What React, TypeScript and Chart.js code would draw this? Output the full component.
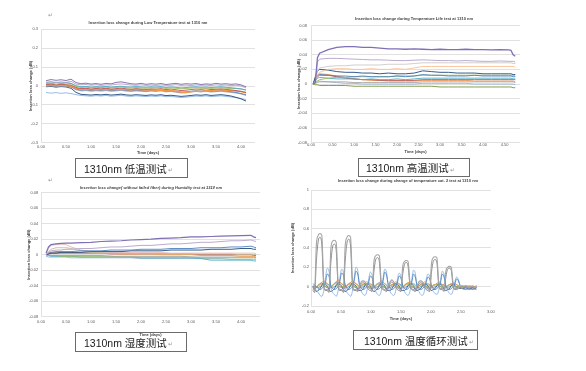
import React, { useEffect, useRef } from "react";
import { Chart, registerables } from "chart.js";
Chart.register(...registerables);

const FONT = "'Liberation Sans', Arial, sans-serif";
const CAP_FONT = "'Liberation Sans', 'Noto Sans CJK SC', sans-serif";

// ---------- text ----------
const title1 = "Insertion loss change during Low Temperature test at 1310 nm";
const title2 = "Insertion loss change during Temperature Life test at 1310 nm";
const title3 = "Insertion loss change( without failed fiber) during Humidity test at 1310 nm";
const title4 = "Insertion loss change during change of temperature cat. 2 test at 1310 nm";
const yAxisTitle = "Insertion loss change (dB)";
const xAxisTitle = "Time (days)";
const caption1 = "1310nm 低温测试";
const caption2 = "1310nm 高温测试";
const caption3 = "1310nm 湿度测试";
const caption4 = "1310nm 温度循环测试";

// ---------- tick labels ----------
const yTicks1 = [-0.3, -0.2, -0.1, 0, 0.1, 0.2, 0.3];
const yLabels1 = ["-0.3", "-0.2", "-0.1", "0", "0.1", "0.2", "0.3"];
const yTicks23 = [-0.08, -0.06, -0.04, -0.02, 0, 0.02, 0.04, 0.06, 0.08];
const yLabels23 = ["-0.08", "-0.06", "-0.04", "-0.02", "0", "0.02", "0.04", "0.06", "0.08"];
const yTicks4 = [-0.2, 0, 0.2, 0.4, 0.6, 0.8, 1];
const yLabels4 = ["-0.2", "0", "0.2", "0.4", "0.6", "0.8", "1"];
const xTicks13 = [0, 0.5, 1, 1.5, 2, 2.5, 3, 3.5, 4];
const xLabels13 = ["0.00", "0.50", "1.00", "1.50", "2.00", "2.50", "3.00", "3.50", "4.00"];
const xTicks2 = [0, 0.5, 1, 1.5, 2, 2.5, 3, 3.5, 4, 4.5];
const xLabels2 = ["0.00", "0.50", "1.00", "1.50", "2.00", "2.50", "3.00", "3.50", "4.00", "4.50"];
const xTicks4 = [0, 0.5, 1, 1.5, 2, 2.5, 3];
const xLabels4 = ["0.00", "0.50", "1.00", "1.50", "2.00", "2.50", "3.00"];

// ---------- chart 1: low temperature ----------
const days1 = [0.1,0.2,0.3,0.4,0.5,0.6,0.7,0.8,0.9,1.0,1.1,1.2,1.3,1.4,1.5,1.6,1.7,1.8,1.9,2.0,2.1,2.2,2.3,2.4,2.5,2.6,2.7,2.8,2.9,3.0,3.1,3.2,3.3,3.4,3.5,3.6,3.7,3.8,3.9,4.0,4.1];
const low_purple = [0.028,0.034,0.030,0.033,0.029,0.036,0.018,0.012,0.015,0.010,0.013,0.009,0.014,0.011,0.019,0.022,0.017,0.012,0.010,0.014,0.009,0.012,0.010,0.013,0.008,0.011,0.014,0.009,0.012,0.010,0.013,0.008,0.011,0.009,0.014,0.010,0.012,0.009,0.011,0.006,-0.004];
const low_lilac = [0.020,0.024,0.018,0.022,0.019,0.025,0.010,0.006,0.008,0.004,0.007,0.003,0.006,0.005,0.009,0.011,0.008,0.005,0.004,0.006,0.003,0.005,0.002,0.006,0.003,0.004,0.007,0.003,0.005,0.002,0.006,0.003,0.005,0.002,0.006,0.004,0.005,0.002,0.004,0.000,-0.010];
const low_teal = [0.018,0.015,0.020,0.016,0.019,0.014,0.002,-0.004,-0.002,-0.006,-0.003,-0.005,-0.002,-0.006,-0.003,-0.001,-0.004,-0.006,-0.003,-0.005,-0.007,-0.004,-0.006,-0.003,-0.008,-0.005,-0.007,-0.010,-0.008,-0.006,-0.004,-0.007,-0.005,-0.008,-0.006,-0.004,-0.007,-0.009,-0.012,-0.015,-0.022];
const low_green = [0.012,0.016,0.010,0.014,0.011,0.013,-0.002,-0.008,-0.006,-0.010,-0.007,-0.009,-0.006,-0.010,-0.008,-0.005,-0.009,-0.011,-0.008,-0.010,-0.012,-0.009,-0.011,-0.008,-0.013,-0.010,-0.012,-0.015,-0.013,-0.011,-0.009,-0.012,-0.010,-0.013,-0.011,-0.009,-0.012,-0.014,-0.013,-0.016,-0.020];
const low_red = [0.008,0.010,0.006,0.009,0.007,0.005,-0.008,-0.014,-0.012,-0.016,-0.013,-0.015,-0.012,-0.016,-0.014,-0.011,-0.015,-0.017,-0.014,-0.016,-0.018,-0.015,-0.017,-0.014,-0.019,-0.016,-0.020,-0.024,-0.022,-0.019,-0.016,-0.018,-0.015,-0.019,-0.017,-0.015,-0.018,-0.021,-0.024,-0.028,-0.034];
const low_orange = [0.004,0.006,0.002,0.005,0.003,0.000,-0.012,-0.018,-0.016,-0.020,-0.017,-0.019,-0.016,-0.020,-0.018,-0.015,-0.019,-0.021,-0.018,-0.020,-0.022,-0.020,-0.023,-0.021,-0.025,-0.024,-0.028,-0.032,-0.034,-0.030,-0.027,-0.029,-0.025,-0.024,-0.022,-0.020,-0.023,-0.025,-0.027,-0.030,-0.036];
const low_blue = [0.002,0.004,0.000,0.003,0.001,-0.004,-0.016,-0.022,-0.020,-0.024,-0.021,-0.023,-0.020,-0.024,-0.022,-0.019,-0.023,-0.025,-0.022,-0.024,-0.026,-0.023,-0.025,-0.022,-0.027,-0.025,-0.029,-0.033,-0.031,-0.028,-0.025,-0.027,-0.024,-0.028,-0.026,-0.024,-0.027,-0.030,-0.034,-0.040,-0.046];
const low_gray = [-0.002,0.001,-0.003,0.000,-0.002,-0.006,-0.020,-0.026,-0.024,-0.028,-0.025,-0.027,-0.024,-0.028,-0.026,-0.023,-0.027,-0.029,-0.026,-0.028,-0.030,-0.027,-0.029,-0.026,-0.031,-0.029,-0.033,-0.037,-0.035,-0.032,-0.029,-0.031,-0.028,-0.032,-0.030,-0.028,-0.031,-0.034,-0.037,-0.042,-0.050];
const low_navy = [-0.004,-0.002,-0.006,-0.003,-0.005,-0.012,-0.034,-0.044,-0.046,-0.048,-0.045,-0.047,-0.044,-0.048,-0.046,-0.043,-0.047,-0.049,-0.046,-0.048,-0.050,-0.047,-0.049,-0.046,-0.051,-0.049,-0.052,-0.055,-0.053,-0.050,-0.047,-0.049,-0.046,-0.050,-0.048,-0.046,-0.049,-0.053,-0.060,-0.068,-0.080];
const low_sky = [-0.034,-0.038,-0.035,-0.039,-0.036,-0.040,-0.046,-0.050,-0.052,-0.054,-0.051,-0.053,-0.050,-0.054,-0.052,-0.049,-0.053,-0.055,-0.052,-0.054,-0.056,-0.053,-0.055,-0.052,-0.057,-0.055,-0.058,-0.061,-0.059,-0.056,-0.053,-0.055,-0.052,-0.056,-0.054,-0.052,-0.055,-0.058,-0.062,-0.066,-0.072];

// ---------- chart 2: temperature life ----------
const days2 = [0.05,0.1,0.15,0.2,0.4,0.6,0.8,1.0,1.2,1.4,1.6,1.8,2.0,2.2,2.4,2.6,2.8,3.0,3.2,3.4,3.6,3.8,4.0,4.2,4.4,4.6,4.65,4.7,4.75];
const hot_purple = [0.000,0.002,0.036,0.042,0.047,0.050,0.051,0.051,0.050,0.050,0.049,0.048,0.048,0.0475,0.048,0.0475,0.047,0.0475,0.047,0.047,0.0475,0.047,0.047,0.0465,0.047,0.0465,0.046,0.040,0.038];
const hot_lilac = [0.000,0.004,0.030,0.034,0.035,0.035,0.0345,0.034,0.0335,0.033,0.033,0.0325,0.032,0.032,0.0325,0.033,0.0325,0.032,0.032,0.0315,0.032,0.0315,0.031,0.031,0.0315,0.031,0.031,0.031,0.030];
const hot_silver = [0.000,0.003,0.018,0.022,0.024,0.025,0.025,0.026,0.026,0.026,0.026,0.027,0.027,0.027,0.028,0.029,0.029,0.029,0.029,0.029,0.029,0.029,0.029,0.029,0.029,0.029,0.029,0.028,0.028];
const hot_peach = [0.000,0.004,0.012,0.016,0.020,0.021,0.021,0.020,0.020,0.021,0.020,0.020,0.021,0.020,0.022,0.024,0.024,0.024,0.024,0.024,0.024,0.024,0.024,0.024,0.024,0.024,0.024,0.024,0.023];
const hot_navy = [0.000,0.010,0.018,0.020,0.019,0.017,0.016,0.016,0.015,0.015,0.014,0.015,0.014,0.014,0.015,0.018,0.017,0.016,0.016,0.015,0.015,0.015,0.014,0.014,0.014,0.014,0.014,0.013,0.013];
const hot_blue = [0.000,0.006,0.012,0.013,0.012,0.011,0.011,0.010,0.011,0.010,0.010,0.010,0.011,0.010,0.011,0.013,0.012,0.012,0.011,0.011,0.011,0.012,0.011,0.011,0.011,0.011,0.011,0.010,0.010];
const hot_green = [0.000,0.002,0.004,0.006,0.008,0.009,0.009,0.010,0.010,0.010,0.010,0.010,0.011,0.011,0.011,0.012,0.012,0.012,0.012,0.012,0.012,0.012,0.012,0.012,0.012,0.012,0.012,0.012,0.011];
const hot_teal = [0.000,0.004,0.008,0.009,0.008,0.007,0.007,0.007,0.006,0.007,0.006,0.006,0.007,0.006,0.007,0.008,0.008,0.008,0.008,0.008,0.008,0.008,0.008,0.008,0.008,0.008,0.008,0.007,0.007];
const hot_red = [0.000,0.006,0.010,0.012,0.012,0.010,0.008,0.007,0.006,0.006,0.005,0.005,0.005,0.005,0.005,0.006,0.006,0.006,0.006,0.006,0.006,0.006,0.006,0.006,0.006,0.006,0.006,0.006,0.006];
const hot_orange = [0.000,0.008,0.012,0.014,0.013,0.011,0.009,0.007,0.006,0.005,0.005,0.004,0.004,0.004,0.004,0.005,0.005,0.005,0.005,0.005,0.005,0.004,0.004,0.004,0.004,0.004,0.004,0.004,0.003];
const hot_gray = [0.000,0.001,0.002,0.003,0.003,0.003,0.003,0.002,0.002,0.002,0.002,0.002,0.002,0.002,0.002,0.003,0.003,0.003,0.003,0.003,0.003,0.003,0.003,0.003,0.003,0.003,0.003,0.003,0.002];
const hot_sky = [0.000,0.002,0.004,0.004,0.003,0.002,0.001,0.001,0.000,0.000,0.000,0.000,0.000,0.000,0.000,0.001,0.001,0.001,0.001,0.001,0.001,0.000,0.000,0.000,0.000,0.000,0.000,0.000,-0.001];
const hot_olive = [0.000,-0.001,-0.001,-0.002,-0.002,-0.002,-0.002,-0.003,-0.003,-0.003,-0.003,-0.003,-0.003,-0.003,-0.003,-0.003,-0.003,-0.004,-0.004,-0.004,-0.004,-0.004,-0.004,-0.004,-0.004,-0.004,-0.004,-0.005,-0.005];

// ---------- chart 3: humidity ----------
const days3 = [0.1,0.15,0.2,0.3,0.4,0.5,0.6,0.8,1.0,1.2,1.4,1.6,1.8,2.0,2.2,2.4,2.6,2.8,3.0,3.2,3.4,3.6,3.8,4.0,4.2,4.25,4.3];
const hum_purple = [0.002,0.010,0.013,0.014,0.0145,0.015,0.015,0.0155,0.016,0.017,0.0175,0.018,0.019,0.0195,0.020,0.021,0.0215,0.022,0.023,0.023,0.0235,0.024,0.0242,0.0245,0.025,0.023,0.022];
const hum_lilac = [0.000,0.003,0.005,0.006,0.006,0.007,0.007,0.008,0.008,0.009,0.010,0.010,0.011,0.012,0.012,0.013,0.014,0.014,0.015,0.016,0.016,0.017,0.018,0.018,0.019,0.018,0.017];
const hum_blue = [0.000,0.002,0.003,0.004,0.004,0.004,0.004,0.005,0.005,0.005,0.006,0.006,0.006,0.007,0.007,0.007,0.008,0.008,0.008,0.009,0.009,0.009,0.010,0.010,0.011,0.010,0.009];
const hum_navy = [0.000,0.001,0.002,0.002,0.003,0.003,0.003,0.003,0.004,0.004,0.004,0.004,0.005,0.005,0.005,0.005,0.006,0.006,0.006,0.006,0.007,0.007,0.007,0.008,0.008,0.007,0.007];
const hum_pink = [0.000,0.008,0.012,0.013,0.0135,0.013,0.010,0.006,0.004,0.004,0.003,0.003,0.003,0.003,0.003,0.003,0.002,0.002,0.002,0.002,0.002,0.002,0.002,0.002,0.002,0.002,0.001];
const hum_tan = [0.000,0.004,0.007,0.009,0.009,0.009,0.008,0.005,0.003,0.002,0.002,0.002,0.002,0.001,0.001,0.001,0.001,0.001,0.001,0.001,0.001,0.001,0.001,0.000,0.000,0.000,0.000];
const hum_orange = [0.000,0.002,0.003,0.003,0.003,0.003,0.003,0.002,0.002,0.002,0.002,0.001,0.001,0.001,0.001,0.000,0.000,0.000,0.000,-0.001,-0.001,-0.001,-0.001,-0.002,-0.002,-0.002,-0.003];
const hum_red = [0.000,0.001,0.002,0.002,0.002,0.002,0.002,0.002,0.002,0.002,0.001,0.001,0.001,0.001,0.001,0.001,0.001,0.001,0.001,0.000,0.000,0.000,0.000,0.000,0.000,-0.001,-0.001];
const hum_gray = [0.000,0.000,-0.001,-0.001,-0.001,-0.001,-0.001,-0.001,-0.001,-0.001,-0.002,-0.002,-0.002,-0.002,-0.002,-0.002,-0.002,-0.002,-0.003,-0.003,-0.003,-0.003,-0.003,-0.003,-0.003,-0.003,-0.004];
const hum_green = [0.000,-0.001,-0.001,-0.001,-0.002,-0.002,-0.002,-0.002,-0.002,-0.002,-0.002,-0.003,-0.003,-0.003,-0.003,-0.003,-0.003,-0.003,-0.003,-0.004,-0.004,-0.004,-0.004,-0.004,-0.004,-0.004,-0.004];
const hum_teal = [0.000,-0.001,-0.002,-0.002,-0.002,-0.002,-0.002,-0.003,-0.003,-0.003,-0.003,-0.003,-0.003,-0.004,-0.004,-0.004,-0.004,-0.004,-0.004,-0.005,-0.007,-0.007,-0.007,-0.007,-0.007,-0.008,-0.008];
const hum_sky = [-0.002,-0.003,-0.003,-0.003,-0.003,-0.003,-0.004,-0.004,-0.004,-0.004,-0.004,-0.004,-0.004,-0.005,-0.005,-0.005,-0.005,-0.005,-0.005,-0.005,-0.005,-0.005,-0.006,-0.006,-0.006,-0.006,-0.006];

// ---------- chart 4: temperature cycling ----------
const days4 = [
  0.03,0.06,0.09,0.12,0.15,0.18,0.21,0.24,
  0.27,0.30,0.33,0.36,0.39,0.42,0.45,0.48,
  0.51,0.54,0.57,0.60,0.63,0.66,0.69,0.72,
  0.75,0.78,0.81,0.84,0.87,0.90,0.93,0.96,
  0.99,1.02,1.05,1.08,1.11,1.14,1.17,1.20,
  1.23,1.26,1.29,1.32,1.35,1.38,1.41,1.44,
  1.47,1.50,1.53,1.56,1.59,1.62,1.65,1.68,
  1.71,1.74,1.77,1.80,1.83,1.86,1.89,1.92,
  1.95,1.98,2.01,2.04,2.07,2.10,2.13,2.16,
  2.19,2.22,2.25,2.28,2.31,2.34,2.37,2.40,
  2.43,2.46,2.49,2.52,2.55,2.58,2.61,2.64,2.67,2.70,2.73,2.76];
const cyc_gray = [
  -0.02,-0.04,0.44,0.53,0.55,0.53,0.08,-0.03,
  -0.03,-0.05,0.38,0.47,0.48,0.46,0.07,-0.03,
  -0.03,-0.05,0.42,0.51,0.53,0.51,0.08,-0.03,
  -0.03,-0.04,0.01,0.05,0.06,0.05,0.02,-0.01,
  -0.02,-0.04,0.26,0.32,0.33,0.32,0.06,-0.02,
  -0.03,-0.04,0.01,0.05,0.07,0.05,0.02,-0.01,
  -0.02,-0.04,0.21,0.26,0.27,0.26,0.05,-0.02,
  -0.03,-0.04,0.01,0.05,0.06,0.05,0.02,-0.01,
  -0.02,-0.04,0.24,0.30,0.31,0.30,0.05,-0.02,
  -0.02,-0.04,0.16,0.20,0.21,0.20,0.04,-0.02,
  -0.02,-0.01,0.00,-0.01,0.00,0.01,0.00,-0.01,0.00,0.00,-0.01,0.00];
const cyc_dim = [
  -0.04,-0.06,0.27,0.47,0.51,0.44,0.03,-0.04,
  -0.04,-0.06,0.24,0.41,0.44,0.38,0.03,-0.04,
  -0.04,-0.06,0.26,0.45,0.49,0.42,0.03,-0.04,
  -0.04,-0.05,-0.01,0.03,0.04,0.03,0.00,-0.03,
  -0.04,-0.05,0.16,0.28,0.30,0.26,0.02,-0.03,
  -0.04,-0.05,-0.01,0.03,0.05,0.03,0.00,-0.03,
  -0.04,-0.05,0.13,0.23,0.25,0.21,0.02,-0.03,
  -0.04,-0.05,-0.01,0.03,0.04,0.03,0.00,-0.03,
  -0.04,-0.05,0.15,0.26,0.28,0.25,0.02,-0.03,
  -0.03,-0.05,0.10,0.18,0.19,0.17,0.01,-0.03,
  -0.03,-0.02,-0.01,-0.02,-0.01,0.00,-0.01,-0.02,-0.01,-0.01,-0.02,-0.01];
const cyc_blue = [
  0.00,0.01,0.00,-0.02,-0.03,-0.02,0.00,0.04,
  0.13,0.11,0.01,-0.02,-0.03,-0.02,0.00,0.05,
  0.14,0.12,0.02,-0.02,-0.03,-0.02,0.00,0.06,
  0.16,0.13,0.02,-0.02,-0.03,-0.02,0.00,0.04,
  0.11,0.09,0.01,-0.02,-0.03,-0.02,0.00,0.05,
  0.15,0.12,0.02,-0.02,-0.03,-0.02,0.00,0.04,
  0.11,0.09,0.01,-0.02,-0.03,-0.02,0.00,0.04,
  0.13,0.10,0.01,-0.02,-0.03,-0.02,0.00,0.04,
  0.10,0.08,0.01,-0.02,-0.03,-0.02,0.00,0.04,
  0.13,0.10,0.01,-0.02,-0.03,-0.02,0.00,0.03,
  0.08,0.06,0.01,-0.01,-0.02,-0.03,-0.02,-0.03,-0.02,-0.03,-0.02,-0.03];
const cyc_sky = [
  0.00,0.00,-0.04,-0.06,-0.09,-0.10,-0.05,0.08,
  0.19,0.16,0.00,-0.06,-0.08,-0.10,-0.05,0.08,
  0.18,0.15,0.00,-0.06,-0.08,-0.10,-0.05,0.09,
  0.20,0.17,0.00,-0.05,-0.08,-0.09,-0.05,0.07,
  0.15,0.12,0.00,-0.05,-0.08,-0.09,-0.05,0.08,
  0.18,0.15,0.00,-0.05,-0.08,-0.09,-0.05,0.07,
  0.14,0.11,0.00,-0.05,-0.08,-0.09,-0.05,0.07,
  0.17,0.14,0.00,-0.05,-0.08,-0.09,-0.05,0.07,
  0.13,0.11,0.00,-0.05,-0.07,-0.08,-0.04,0.06,
  0.16,0.13,0.00,-0.04,-0.07,-0.08,-0.04,0.05,
  0.10,0.07,0.00,-0.02,-0.03,-0.02,-0.03,-0.02,-0.03,-0.02,-0.03,-0.02];
const cyc_orange = [
  0.01,0.00,0.00,0.01,0.02,0.04,0.06,0.05,
  0.03,0.01,0.00,0.01,0.03,0.05,0.07,0.05,
  0.03,0.01,0.00,0.01,0.02,0.04,0.06,0.05,
  0.03,0.01,0.00,0.01,0.02,0.04,0.05,0.04,
  0.02,0.01,0.00,0.01,0.02,0.04,0.06,0.05,
  0.03,0.01,0.00,0.01,0.02,0.03,0.05,0.04,
  0.02,0.01,0.00,0.01,0.02,0.04,0.05,0.04,
  0.02,0.01,0.00,0.01,0.02,0.03,0.05,0.04,
  0.02,0.01,0.00,0.01,0.02,0.03,0.05,0.04,
  0.02,0.01,0.00,0.01,0.02,0.03,0.04,0.03,
  0.02,0.01,0.00,0.01,0.01,0.00,0.01,0.00,0.01,0.00,0.00,0.01];
const cyc_green = [
  0.00,-0.01,0.00,0.02,0.03,0.02,0.01,0.00,
  0.00,-0.01,0.00,0.02,0.03,0.03,0.01,0.00,
  0.01,-0.01,0.00,0.02,0.03,0.02,0.01,0.00,
  0.00,-0.01,0.00,0.01,0.02,0.02,0.01,0.00,
  0.00,-0.01,0.00,0.02,0.03,0.02,0.01,0.00,
  0.00,-0.01,0.00,0.01,0.02,0.02,0.01,0.00,
  0.00,-0.01,0.00,0.02,0.03,0.02,0.01,0.00,
  0.00,-0.01,0.00,0.01,0.02,0.02,0.01,0.00,
  0.00,-0.01,0.00,0.02,0.02,0.02,0.01,0.00,
  0.00,-0.01,0.00,0.01,0.02,0.02,0.01,0.00,
  0.00,0.00,-0.01,0.00,0.00,-0.01,0.00,0.00,-0.01,0.00,0.00,-0.01];
const cyc_purple = [
  -0.01,-0.02,-0.01,0.01,0.03,0.04,0.02,0.00,
  -0.01,-0.02,-0.01,0.01,0.03,0.05,0.02,0.00,
  -0.01,-0.02,-0.01,0.01,0.03,0.04,0.02,0.00,
  -0.01,-0.02,-0.01,0.01,0.02,0.03,0.02,0.00,
  -0.01,-0.02,-0.01,0.01,0.03,0.04,0.02,0.00,
  -0.01,-0.02,-0.01,0.01,0.02,0.03,0.02,0.00,
  -0.01,-0.02,-0.01,0.01,0.03,0.04,0.02,0.00,
  -0.01,-0.02,-0.01,0.01,0.02,0.03,0.02,0.00,
  -0.01,-0.02,-0.01,0.01,0.02,0.03,0.02,0.00,
  -0.01,-0.02,-0.01,0.01,0.02,0.03,0.01,0.00,
  -0.01,0.00,-0.01,0.00,-0.01,0.00,0.00,-0.01,0.00,-0.01,0.00,0.00];
const cyc_navy = [
  0.00,-0.03,-0.05,-0.04,-0.02,0.01,0.03,0.02,
  0.01,-0.03,-0.05,-0.04,-0.02,0.01,0.03,0.02,
  0.01,-0.03,-0.05,-0.04,-0.02,0.01,0.03,0.02,
  0.01,-0.03,-0.04,-0.04,-0.02,0.01,0.03,0.02,
  0.01,-0.03,-0.05,-0.04,-0.02,0.01,0.03,0.02,
  0.01,-0.03,-0.04,-0.04,-0.02,0.01,0.03,0.02,
  0.01,-0.03,-0.04,-0.04,-0.02,0.01,0.02,0.02,
  0.01,-0.03,-0.04,-0.03,-0.02,0.01,0.02,0.02,
  0.01,-0.02,-0.04,-0.03,-0.02,0.01,0.02,0.02,
  0.01,-0.02,-0.04,-0.03,-0.02,0.01,0.02,0.01,
  0.00,-0.01,-0.02,-0.01,-0.02,-0.01,-0.02,-0.01,-0.02,-0.01,-0.02,-0.01];
const cyc_teal = [
  0.03,0.02,0.00,-0.01,0.00,0.02,0.04,0.04,
  0.03,0.02,0.00,-0.01,0.00,0.02,0.04,0.04,
  0.03,0.02,0.00,-0.01,0.00,0.02,0.04,0.04,
  0.03,0.02,0.00,-0.01,0.00,0.02,0.03,0.04,
  0.03,0.02,0.00,-0.01,0.00,0.02,0.04,0.04,
  0.03,0.02,0.00,-0.01,0.00,0.02,0.03,0.04,
  0.03,0.02,0.00,-0.01,0.00,0.02,0.03,0.03,
  0.03,0.02,0.00,-0.01,0.00,0.02,0.03,0.03,
  0.03,0.02,0.00,-0.01,0.00,0.01,0.03,0.03,
  0.02,0.02,0.00,-0.01,0.00,0.01,0.03,0.03,
  0.02,0.01,0.00,0.01,0.00,0.01,0.00,0.01,0.00,0.01,0.00,0.01];

type Series = { name: string; color: string; values: number[]; width?: number };
type Panel = {
  l: number; t: number; r: number; b: number;
  yTitleX: number; yLabelRight: number; xLabelY: number; xTitleY: number;
  xMax: number;
  yTicks: number[]; yLabels: string[]; xTicks: number[]; xLabels: string[];
  days: number[]; series: Series[]; smooth?: boolean;
};

const panels: Panel[] = [
  {
    l: 41, t: 29.3, r: 255, b: 142.7, yTitleX: 31, yLabelRight: 38, xLabelY: 147, xTitleY: 153,
    xMax: 4.28, yTicks: yTicks1, yLabels: yLabels1, xTicks: xTicks13, xLabels: xLabels13, days: days1,
    series: [
      { name: "S1", color: "#8064A2", values: low_purple },
      { name: "S2", color: "#B3A2C7", values: low_lilac },
      { name: "S3", color: "#4BACC6", values: low_teal },
      { name: "S4", color: "#9BBB59", values: low_green },
      { name: "S5", color: "#C0504D", values: low_red },
      { name: "S6", color: "#F79646", values: low_orange, width: 1.4 },
      { name: "S7", color: "#4F81BD", values: low_blue },
      { name: "S8", color: "#A5A5A5", values: low_gray },
      { name: "S9", color: "#1F497D", values: low_navy },
      { name: "S10", color: "#8DB4E2", values: low_sky },
    ],
  },
  {
    l: 311, t: 25, r: 520, b: 142.7, yTitleX: 298.5, yLabelRight: 307, xLabelY: 145, xTitleY: 152,
    xMax: 4.86, yTicks: yTicks23, yLabels: yLabels23, xTicks: xTicks2, xLabels: xLabels2, days: days2,
    series: [
      { name: "S1", color: "#7F6FB5", values: hot_purple, width: 1.3 },
      { name: "S2", color: "#B3A2C7", values: hot_lilac },
      { name: "S3", color: "#C9C9C9", values: hot_silver },
      { name: "S4", color: "#FAC090", values: hot_peach },
      { name: "S5", color: "#1F497D", values: hot_navy },
      { name: "S6", color: "#4F81BD", values: hot_blue },
      { name: "S7", color: "#9BBB59", values: hot_green },
      { name: "S8", color: "#4BACC6", values: hot_teal },
      { name: "S9", color: "#C0504D", values: hot_red },
      { name: "S10", color: "#F79646", values: hot_orange },
      { name: "S11", color: "#A5A5A5", values: hot_gray },
      { name: "S12", color: "#95B3D7", values: hot_sky },
      { name: "S13", color: "#77933C", values: hot_olive },
    ],
  },
  {
    l: 41, t: 192.7, r: 260, b: 316.7, yTitleX: 29, yLabelRight: 38.3, xLabelY: 321.7, xTitleY: 335,
    xMax: 4.38, yTicks: yTicks23, yLabels: yLabels23, xTicks: xTicks13, xLabels: xLabels13, days: days3,
    series: [
      { name: "S1", color: "#7F6FB5", values: hum_purple, width: 1.2 },
      { name: "S2", color: "#B3A2C7", values: hum_lilac },
      { name: "S3", color: "#4F81BD", values: hum_blue },
      { name: "S4", color: "#1F497D", values: hum_navy },
      { name: "S5", color: "#E6B9B8", values: hum_pink },
      { name: "S6", color: "#C4BD97", values: hum_tan },
      { name: "S7", color: "#F79646", values: hum_orange },
      { name: "S8", color: "#C0504D", values: hum_red },
      { name: "S9", color: "#A5A5A5", values: hum_gray },
      { name: "S10", color: "#9BBB59", values: hum_green },
      { name: "S11", color: "#4BACC6", values: hum_teal },
      { name: "S12", color: "#95B3D7", values: hum_sky },
    ],
  },
  {
    l: 311, t: 190, r: 492, b: 306, yTitleX: 293.3, yLabelRight: 309, xLabelY: 311.7, xTitleY: 319,
    xMax: 3, yTicks: yTicks4, yLabels: yLabels4, xTicks: xTicks4, xLabels: xLabels4, days: days4, smooth: true,
    series: [
      { name: "S1", color: "#A5A5A5", values: cyc_gray, width: 1.1 },
      { name: "S2", color: "#7F7F7F", values: cyc_dim },
      { name: "S3", color: "#4F81BD", values: cyc_blue },
      { name: "S4", color: "#8DB4E2", values: cyc_sky },
      { name: "S5", color: "#F79646", values: cyc_orange },
      { name: "S6", color: "#9BBB59", values: cyc_green },
      { name: "S7", color: "#8064A2", values: cyc_purple },
      { name: "S8", color: "#1F497D", values: cyc_navy },
      { name: "S9", color: "#4BACC6", values: cyc_teal },
    ],
  },
];

const TICK_SIZE = 4;
const LH = TICK_SIZE * 1.2;

function PanelChart({ p }: { p: Panel }) {
  const ref = useRef<HTMLCanvasElement>(null);
  const cl = Math.round(p.l - 22);
  const ct = Math.round(p.t - 6);
  const cw = Math.round(p.r + 6) - cl;
  const ch = Math.round(p.xTitleY + 5) - ct;
  useEffect(() => {
    const tickFont = { family: FONT, size: TICK_SIZE };
    const axFont = { family: FONT, size: TICK_SIZE, weight: "bold" as const };
    const chart = new Chart(ref.current!, {
      type: "line",
      data: {
        datasets: p.series.map((s) => ({
          label: s.name,
          data: p.days.map((d, i) => ({ x: d, y: s.values[i] })),
          borderColor: s.color,
          backgroundColor: s.color,
          borderWidth: s.width ?? 0.9,
          pointRadius: 0,
          fill: false,
          tension: 0,
          cubicInterpolationMode: p.smooth ? ("monotone" as const) : ("default" as const),
        })),
      },
      options: {
        responsive: false,
        animation: false,
        devicePixelRatio: 1,
        layout: { padding: { left: 0, top: p.t - ct, right: cl + cw - p.r, bottom: 0 } },
        plugins: { legend: { display: false }, tooltip: { enabled: false }, title: { display: false } },
        scales: {
          x: {
            type: "linear",
            min: 0,
            max: p.xMax,
            afterFit: (s: any) => { s.height = ct + ch - p.b; },
            afterBuildTicks: (s: any) => { s.ticks = p.xTicks.map((v) => ({ value: v })); },
            ticks: {
              font: tickFont, color: "#595959", padding: p.xLabelY - p.b - LH / 2,
              maxRotation: 0, autoSkip: false,
              callback: (_v: any, i: number) => p.xLabels[i],
            },
            grid: { display: false, drawTicks: false },
            border: { display: false },
            title: {
              display: true, text: xAxisTitle, font: axFont, color: "#404040",
              padding: { top: 0, bottom: ct + ch - p.xTitleY - LH / 2 },
            },
          },
          y: {
            type: "linear",
            min: p.yTicks[0],
            max: p.yTicks[p.yTicks.length - 1],
            afterFit: (s: any) => { s.width = p.l - cl; },
            afterBuildTicks: (s: any) => { s.ticks = p.yTicks.map((v) => ({ value: v })); },
            ticks: {
              font: tickFont, color: "#595959", padding: p.l - p.yLabelRight,
              callback: (_v: any, i: number) => p.yLabels[i],
            },
            grid: { color: "#D9D9D9", lineWidth: 0.8, drawTicks: false },
            border: { display: true, color: "#D9D9D9", width: 0.8 },
            title: {
              display: true, text: yAxisTitle, font: axFont, color: "#404040",
              padding: { top: p.yTitleX - cl - LH / 2, bottom: 0 },
            },
          },
        },
      },
    } as any);
    return () => chart.destroy();
  }, []);
  return (
    <canvas
      ref={ref}
      width={cw}
      height={ch}
      style={{ position: "absolute", left: cl, top: ct, width: cw, height: ch }}
    />
  );
}

function Title({ text, x, y, italic }: { text: string; x: number; y: number; italic?: boolean }) {
  return (
    <div
      style={{
        position: "absolute", left: x, top: y, transform: "translate(-50%, -50%)",
        font: `${italic ? "italic " : ""}bold 4px ${FONT}`, color: "#404040", whiteSpace: "nowrap",
      }}
    >
      {text}
    </div>
  );
}

function Caption({ text, x, y, w, h, pad }: { text: string; x: number; y: number; w: number; h: number; pad: number }) {
  return (
    <div
      style={{
        position: "absolute", left: x, top: y, width: w, height: h, boxSizing: "border-box",
        border: "1px solid #6b6b6b", display: "flex", alignItems: "center", paddingLeft: pad,
        font: `10.5px ${CAP_FONT}`, color: "#1a1a1a", whiteSpace: "nowrap",
      }}
    >
      {text}
      <span style={{ fontSize: 6, color: "#9a9a9a", marginLeft: 1, marginTop: 3, fontFamily: "'DejaVu Sans'" }}>↵</span>
    </div>
  );
}

function Mark({ x, y }: { x: number; y: number }) {
  return (
    <span style={{ position: "absolute", left: x, top: y, fontSize: 6, color: "#9a9a9a", fontFamily: "'DejaVu Sans'", lineHeight: 1 }}>↵</span>
  );
}

export default function App() {
  return (
    <div style={{ position: "absolute", left: 0, top: 0, width: 586, height: 371, background: "#fff", overflow: "hidden" }}>
      {panels.map((p, i) => (
        <PanelChart key={i} p={p} />
      ))}
      <Title text={title1} x={148} y={22} />
      <Title text={title2} x={414} y={18} />
      <Title text={title3} x={151} y={186.7} italic />
      <Title text={title4} x={408} y={180} />
      <Mark x={48} y={12} />
      <Mark x={48} y={177} />
      <Caption text={caption1} x={75} y={158} w={113} h={20} pad={8} />
      <Caption text={caption2} x={358} y={158} w={112} h={19} pad={7} />
      <Caption text={caption3} x={75} y={332} w={112} h={20} pad={8} />
      <Caption text={caption4} x={353} y={330} w={125} h={20} pad={10} />
    </div>
  );
}
